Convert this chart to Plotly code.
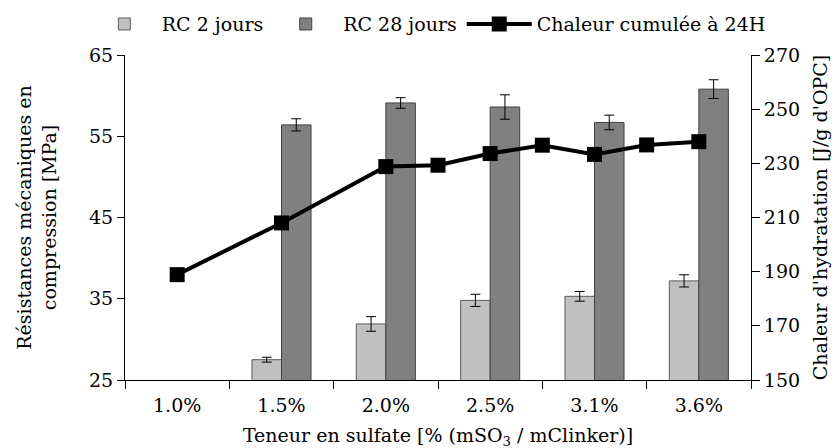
import plotly.graph_objects as go

categories = ["1.0%", "1.5%", "2.0%", "2.5%", "3.1%", "3.6%"]
rc2 = [0, 27.5, 31.9, 34.8, 35.3, 37.2]
rc2_err = [0, 0.3, 0.9, 0.75, 0.6, 0.75]
rc28 = [0, 56.4, 59.1, 58.6, 56.7, 60.8]
rc28_err = [0, 0.75, 0.65, 1.5, 0.9, 1.15]

# heat curve: position along the category axis (index) and value
heat_pos = [0, 1, 2, 2.5, 3, 3.5, 4, 4.5, 5]
heat = [188.9, 208.0, 228.8, 229.3, 233.6, 236.7, 233.3, 236.8, 238.0]

FONT = "DejaVu Serif"
fs = 19

fig = go.Figure()
fig.add_trace(go.Bar(
    x=categories, y=rc2, name="RC 2 jours",
    marker=dict(color="#C0C0C0", line=dict(color="#5a5a5a", width=1)),
    error_y=dict(type="data", array=rc2_err, color="black", thickness=1, width=5),
    xaxis="x", yaxis="y",
))
fig.add_trace(go.Bar(
    x=categories, y=rc28, name="RC 28 jours",
    marker=dict(color="#808080", line=dict(color="#404040", width=1)),
    error_y=dict(type="data", array=rc28_err, color="black", thickness=1, width=5),
    xaxis="x", yaxis="y",
))
fig.add_trace(go.Scatter(
    x=heat_pos, y=heat, name="Chaleur cumulée à 24H",
    mode="lines+markers",
    line=dict(color="black", width=4),
    marker=dict(symbol="square", size=15, color="black"),
    xaxis="x2", yaxis="y2",
))

fig.update_layout(
    width=840, height=448,
    margin=dict(l=117, r=97, t=47, b=76, autoexpand=False),
    paper_bgcolor="white", plot_bgcolor="white",
    font=dict(family=FONT, size=fs, color="black"),
    barmode="group", bargap=0.434, bargroupgap=0,
    showlegend=True,
    legend=dict(orientation="h", x=-0.061, xanchor="left",
                y=1.095, yanchor="middle",
                font=dict(size=fs), itemwidth=65, traceorder="normal",
                bgcolor="rgba(0,0,0,0)"),
    xaxis=dict(
        type="category", range=[-0.5, 5.5], tickson="boundaries",
        ticks="outside", ticklen=8, tickcolor="black", tickwidth=1,
        showline=True, linecolor="black", linewidth=1,
        showgrid=False, zeroline=False,
        ticklabelstandoff=8,
        title=dict(text="Teneur en sulfate [% (mSO<sub>3</sub> / mClinker)]",
                   font=dict(size=fs), standoff=13),
    ),
    xaxis2=dict(overlaying="x", range=[-0.5, 5.5], visible=False),
    yaxis=dict(
        range=[25, 65], dtick=10, tick0=25,
        ticks="outside", ticklen=7, tickcolor="black",
        showline=True, linecolor="black", linewidth=1,
        showgrid=False, zeroline=False,
        title=dict(text="Résistances mécaniques en<br>compression [MPa]",
                   font=dict(size=fs), standoff=27),
    ),
    yaxis2=dict(
        overlaying="y", side="right", range=[150, 270], dtick=20, tick0=150,
        ticks="outside", ticklen=8, tickcolor="black",
        showline=True, linecolor="black", linewidth=1,
        showgrid=False, zeroline=False,
        title=dict(text="Chaleur d'hydratation [J/g d'OPC]",
                   font=dict(size=fs), standoff=14),
    ),
)

fig.write_html("out.html")
